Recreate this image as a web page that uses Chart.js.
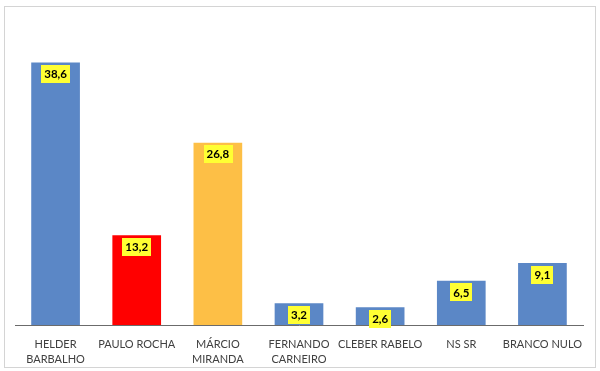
<!DOCTYPE html>
<html lang="pt">
<head>
    <meta charset="UTF-8">
    <title>Pesquisa</title>
    <script src="https://cdn.jsdelivr.net/npm/chart.js"></script>
    <style>
        html, body { margin: 0; padding: 0; background: #fff; }
        #wrap { width: 600px; height: 371px; position: relative; }
    </style>
</head>
<body>
<div id="wrap"><canvas id="chart" width="600" height="371"></canvas></div>
<script>
    // categories and values
    const categories = [
        ["HELDER", "BARBALHO"],
        "PAULO ROCHA",
        ["MÁRCIO", "MIRANDA"],
        ["FERNANDO", "CARNEIRO"],
        "CLEBER RABELO",
        "NS SR",
        "BRANCO NULO"
    ];
    const values = [38.6, 13.2, 26.8, 3.2, 2.6, 6.5, 9.1];
    const barColors = ["#5b87c6", "#ff0000", "#fdbf46", "#5b87c6", "#5b87c6", "#5b87c6", "#5b87c6"];

    // frame around the whole chart
    const framePlugin = {
        id: "frame",
        beforeDraw(chart) {
            const ctx = chart.ctx;
            ctx.save();
            ctx.fillStyle = "#fff";
            ctx.fillRect(0, 0, chart.width, chart.height);
            ctx.strokeStyle = "#d4d4d4";
            ctx.lineWidth = 1;
            ctx.strokeRect(4.5, 6.5, 591, 361);
            ctx.restore();
        }
    };

    // yellow value boxes near the top of each bar
    const valueBoxes = {
        id: "valueBoxes",
        afterDatasetsDraw(chart) {
            const ctx = chart.ctx;
            const meta = chart.getDatasetMeta(0);
            ctx.save();
            ctx.font = "bold 11.5px Lato, 'Open Sans', sans-serif";
            ctx.textAlign = "center";
            ctx.textBaseline = "middle";
            meta.data.forEach((bar, i) => {
                const txt = values[i].toFixed(1).replace(".", ",");
                const w = ctx.measureText(txt).width + 6;
                const h = 18;
                const cy = bar.y + 11.5;
                ctx.fillStyle = "#ffff33";
                ctx.fillRect(Math.round(bar.x - w / 2), Math.round(cy - h / 2), Math.round(w), h);
                ctx.fillStyle = "#000";
                ctx.fillText(txt, bar.x, cy + 0.5);
            });
            ctx.restore();
        }
    };

    new Chart(document.getElementById("chart"), {
        type: "bar",
        data: {
            labels: categories,
            datasets: [{
                data: values,
                backgroundColor: barColors,
                categoryPercentage: 1,
                barPercentage: 0.6
            }]
        },
        options: {
            responsive: false,
            animation: false,
            layout: { padding: { left: 15, right: 17, top: 19, bottom: 3 } },
            plugins: {
                legend: { display: false },
                tooltip: { enabled: false }
            },
            scales: {
                x: {
                    grid: { display: false, drawTicks: false },
                    border: { color: "#6b6b6b", width: 1 },
                    afterFit(scale) { scale.height = 43; },
                    ticks: {
                        color: "#404040",
                        padding: 12,
                        maxRotation: 0,
                        autoSkip: false,
                        font: { family: "Lato, 'Open Sans', sans-serif", size: 11, lineHeight: 1.36 }
                    }
                },
                y: {
                    display: false,
                    min: 0,
                    max: 45
                }
            }
        },
        plugins: [framePlugin, valueBoxes]
    });
</script>
</body>
</html>
